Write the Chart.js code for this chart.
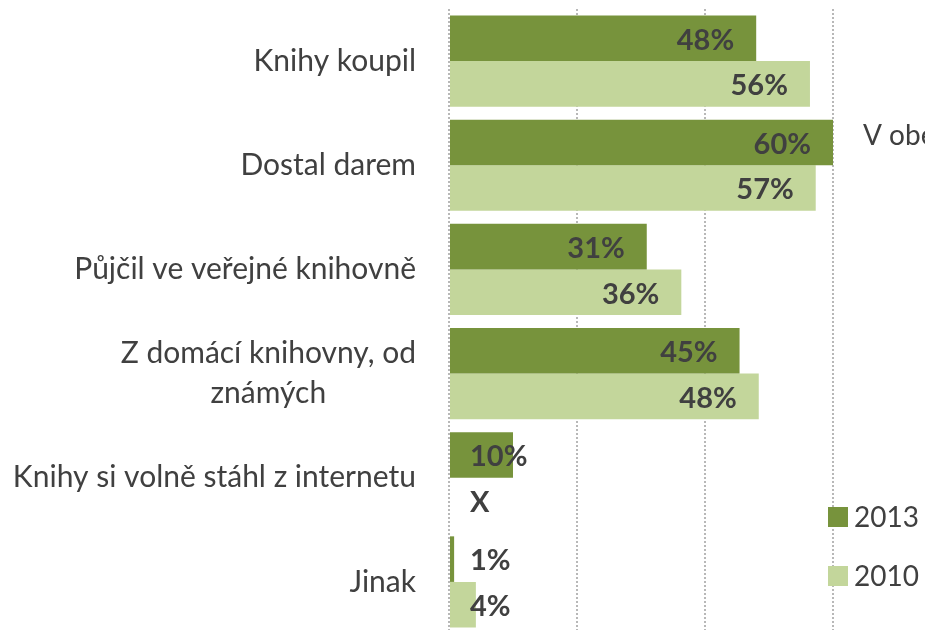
<!DOCTYPE html>
<html>
<head>
<meta charset="utf-8">
<script src="https://cdn.jsdelivr.net/npm/chart.js@4.4.1/dist/chart.umd.min.js"></script>
<style>
  html, body { margin: 0; padding: 0; background: #fff; overflow: hidden; }
  #wrap { width: 925px; height: 630px; overflow: hidden; }
</style>
</head>
<body>
<div id="wrap"><canvas id="chart" width="961" height="634"></canvas></div>
<script>
// data (labels show the rounded value)
const categories = [
  'Knihy koupil',
  'Dostal darem',
  'Půjčil ve veřejné knihovně',
  ['Z domácí knihovny, od', 'známých'],
  'Knihy si volně stáhl z internetu',
  'Jinak'
];
const values2013 = [48, 60, 30.9, 45.4, 10, 0.8];
const values2010 = [56.4, 57.3, 36.3, 48.4, null, 4.2];
const seriesNames = ['2013', '2010'];
const xTicks = [0, 20, 40, 60, 80];

const DARK = '#77933C';
const LIGHT = '#C3D69B';
const TEXT = '#404040';
const FONT = 'Lato, "Open Sans", sans-serif';

// category labels, drawn centred line by line and right-aligned as a block
const catLabels = {
  id: 'catLabels',
  afterDraw(chart) {
    const ctx = chart.ctx;
    const y = chart.scales.y;
    ctx.save();
    ctx.font = '30px ' + FONT;
    ctx.fillStyle = TEXT;
    ctx.textBaseline = 'middle';
    ctx.textAlign = 'center';
    categories.forEach((c, i) => {
      const lines = Array.isArray(c) ? c : [c];
      const w = Math.max(...lines.map(l => ctx.measureText(l).width));
      const cx = 416 - w / 2;
      const cy = y.getPixelForValue(i);
      const lh = 40;
      lines.forEach((l, k) => {
        ctx.fillText(l, cx, cy + (k - (lines.length - 1) / 2) * lh);
      });
    });
    ctx.restore();
  }
};

// value labels inside the bar ends
const valueLabels = {
  id: 'valueLabels',
  afterDatasetsDraw(chart) {
    const ctx = chart.ctx;
    const x0 = chart.scales.x.getPixelForValue(0);
    ctx.save();
    ctx.font = 'bold 29px ' + FONT;
    ctx.fillStyle = TEXT;
    ctx.textBaseline = 'middle';
    ctx.textAlign = 'left';
    chart.data.datasets.forEach((ds, di) => {
      chart.getDatasetMeta(di).data.forEach((bar, i) => {
        const v = ds.data[i];
        const txt = v == null ? 'X' : Math.max(1, Math.round(v)) + '%';
        const w = ctx.measureText(txt).width;
        let left = x0 + 21;
        if (v != null) left = Math.max(bar.x - 22 - w, x0 + 21);
        ctx.fillText(txt, left, bar.y + 2);
      });
    });
    ctx.restore();
  }
};

// legend and the cut-off note on the right
const sideItems = {
  id: 'sideItems',
  afterDraw(chart) {
    const ctx = chart.ctx;
    ctx.save();
    ctx.font = '28px ' + FONT;
    ctx.fillStyle = TEXT;
    ctx.textBaseline = 'middle';
    ctx.fillText('V obe', 863, 136);
    chart.data.datasets.forEach((ds, di) => {
      const cy = 517 + di * 59;
      ctx.fillStyle = ds.backgroundColor;
      ctx.fillRect(828, cy - 10, 20, 20);
      ctx.fillStyle = TEXT;
      ctx.fillText(ds.label, 854, cy + 1);
    });
    ctx.restore();
  }
};

new Chart(document.getElementById('chart'), {
  type: 'bar',
  data: {
    labels: categories,
    datasets: [
      { label: seriesNames[0], data: values2013, backgroundColor: DARK },
      { label: seriesNames[1], data: values2010, backgroundColor: LIGHT }
    ]
  },
  options: {
    indexAxis: 'y',
    responsive: false,
    animation: false,
    layout: { padding: { top: 9, right: 0, bottom: 0, left: 0 } },
    datasets: { bar: { categoryPercentage: 0.875, barPercentage: 1.0 } },
    plugins: { legend: { display: false }, tooltip: { enabled: false } },
    scales: {
      x: {
        min: 0,
        max: 80,
        afterBuildTicks: s => { s.ticks = xTicks.map(v => ({ value: v })); },
        ticks: { display: false },
        border: { display: false, dash: [2, 2] },
        grid: { color: '#B8B8B8', lineWidth: 2, drawTicks: false }
      },
      y: {
        ticks: { display: false },
        border: { display: false },
        grid: { display: false, drawTicks: false },
        afterFit: s => { s.width = 449; }
      }
    }
  },
  plugins: [catLabels, valueLabels, sideItems]
});
</script>
</body>
</html>
